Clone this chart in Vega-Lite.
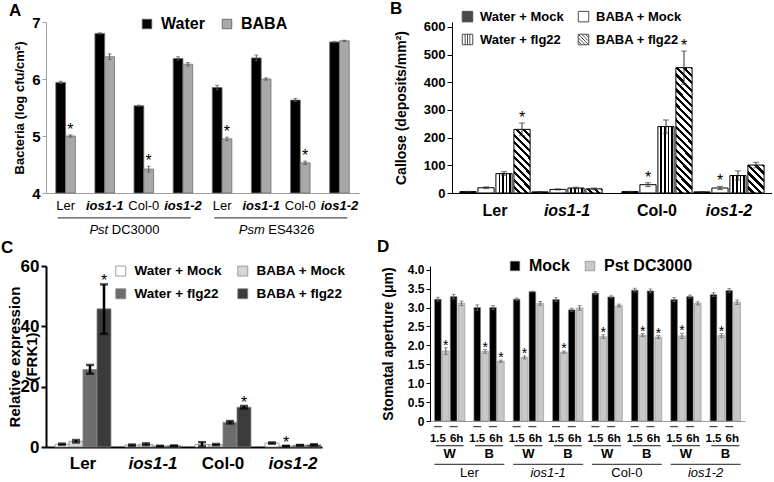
{
"$schema":"https://vega.github.io/schema/vega-lite/v6.json",
"background":"white",
"padding":{"left":1,"top":0,"right":0,"bottom":0},
"config":{"font":"Liberation Sans","view":{"stroke":null},
 "axis":{"labelColor":"black","titleColor":"black","domainColor":"black","tickColor":"black","grid":false,"labelFont":"Liberation Sans","titleFont":"Liberation Sans","labelOverlap":false,"titleLineHeight":17},
 "legend":{"labelColor":"black","labelFont":"Liberation Sans","padding":0},
 "title":{"font":"Liberation Sans","color":"black"},
 "text":{"font":"Liberation Sans","color":"black"}},
"datasets":{
 "a":[
  {"k":"Pst|Ler","t":"Water","v":5.94,"lo":5.92,"hi":5.96,"s":""},
  {"k":"Pst|Ler","t":"BABA","v":5.0,"lo":4.98,"hi":5.02,"s":"*"},
  {"k":"Pst|ios1-1","t":"Water","v":6.8,"lo":6.79,"hi":6.81,"s":""},
  {"k":"Pst|ios1-1","t":"BABA","v":6.39,"lo":6.34,"hi":6.44,"s":""},
  {"k":"Pst|Col-0","t":"Water","v":5.53,"lo":5.52,"hi":5.54,"s":""},
  {"k":"Pst|Col-0","t":"BABA","v":4.42,"lo":4.37,"hi":4.47,"s":"*"},
  {"k":"Pst|ios1-2","t":"Water","v":6.36,"lo":6.33,"hi":6.39,"s":""},
  {"k":"Pst|ios1-2","t":"BABA","v":6.26,"lo":6.23,"hi":6.29,"s":""},
  {"k":"Psm|Ler","t":"Water","v":5.85,"lo":5.81,"hi":5.89,"s":""},
  {"k":"Psm|Ler","t":"BABA","v":4.95,"lo":4.92,"hi":4.98,"s":"*"},
  {"k":"Psm|ios1-1","t":"Water","v":6.37,"lo":6.32,"hi":6.42,"s":""},
  {"k":"Psm|ios1-1","t":"BABA","v":6.0,"lo":5.98,"hi":6.02,"s":""},
  {"k":"Psm|Col-0","t":"Water","v":5.63,"lo":5.6,"hi":5.66,"s":""},
  {"k":"Psm|Col-0","t":"BABA","v":4.53,"lo":4.5,"hi":4.56,"s":"*"},
  {"k":"Psm|ios1-2","t":"Water","v":6.65,"lo":6.64,"hi":6.66,"s":""},
  {"k":"Psm|ios1-2","t":"BABA","v":6.67,"lo":6.66,"hi":6.68,"s":""}
 ],
 "alab":[{"g":"Pst|Ler","lab":"Ler"},{"g":"Pst|ios1-1","lab":"ios1-1"},{"g":"Pst|Col-0","lab":"Col-0"},{"g":"Pst|ios1-2","lab":"ios1-2"},
  {"g":"Psm|Ler","lab":"Ler"},{"g":"Psm|ios1-1","lab":"ios1-1"},{"g":"Psm|Col-0","lab":"Col-0"},{"g":"Psm|ios1-2","lab":"ios1-2"}],
 "apath":[{"p":"Pst","a":"Pst","b":"DC3000"},{"p":"Psm","a":"Psm","b":"ES4326"}],
 "b":[
  {"g":"Ler","t":"Water + Mock","v":5,"lo":4,"hi":6,"s":""},
  {"g":"Ler","t":"BABA + Mock","v":19,"lo":16,"hi":22,"s":""},
  {"g":"Ler","t":"Water + flg22","v":70,"lo":64,"hi":77,"s":""},
  {"g":"Ler","t":"BABA + flg22","v":230,"lo":207,"hi":253,"s":"*"},
  {"g":"ios1-1","t":"Water + Mock","v":4,"lo":3,"hi":5,"s":""},
  {"g":"ios1-1","t":"BABA + Mock","v":13,"lo":11,"hi":15,"s":""},
  {"g":"ios1-1","t":"Water + flg22","v":18,"lo":15,"hi":21,"s":""},
  {"g":"ios1-1","t":"BABA + flg22","v":15,"lo":12,"hi":18,"s":""},
  {"g":"Col-0","t":"Water + Mock","v":5,"lo":4,"hi":6,"s":""},
  {"g":"Col-0","t":"BABA + Mock","v":30,"lo":23,"hi":37,"s":"*"},
  {"g":"Col-0","t":"Water + flg22","v":240,"lo":216,"hi":264,"s":""},
  {"g":"Col-0","t":"BABA + flg22","v":453,"lo":393,"hi":513,"s":"*"},
  {"g":"ios1-2","t":"Water + Mock","v":4,"lo":3,"hi":5,"s":""},
  {"g":"ios1-2","t":"BABA + Mock","v":18,"lo":12,"hi":24,"s":"*"},
  {"g":"ios1-2","t":"Water + flg22","v":63,"lo":47,"hi":80,"s":""},
  {"g":"ios1-2","t":"BABA + flg22","v":101,"lo":91,"hi":111,"s":""}
 ],
 "c":[
  {"g":"Ler","t":"Water + Mock","v":0.9,"lo":0.7,"hi":1.1,"s":""},
  {"g":"Ler","t":"BABA + Mock","v":1.9,"lo":1.5,"hi":2.3,"s":""},
  {"g":"Ler","t":"Water + flg22","v":25.7,"lo":24.3,"hi":27.2,"s":""},
  {"g":"Ler","t":"BABA + flg22","v":45.8,"lo":37.5,"hi":53.9,"s":"*"},
  {"g":"ios1-1","t":"Water + Mock","v":0.6,"lo":0.4,"hi":0.8,"s":""},
  {"g":"ios1-1","t":"BABA + Mock","v":0.9,"lo":0.6,"hi":1.2,"s":""},
  {"g":"ios1-1","t":"Water + flg22","v":0.3,"lo":0.2,"hi":0.4,"s":""},
  {"g":"ios1-1","t":"BABA + flg22","v":0.4,"lo":0.3,"hi":0.5,"s":""},
  {"g":"Col-0","t":"Water + Mock","v":0.8,"lo":0.2,"hi":1.6,"s":""},
  {"g":"Col-0","t":"BABA + Mock","v":0.8,"lo":0.6,"hi":1.0,"s":""},
  {"g":"Col-0","t":"Water + flg22","v":8.2,"lo":7.8,"hi":8.6,"s":""},
  {"g":"Col-0","t":"BABA + flg22","v":13.2,"lo":12.8,"hi":13.6,"s":"*"},
  {"g":"ios1-2","t":"Water + Mock","v":1.3,"lo":1.1,"hi":1.5,"s":""},
  {"g":"ios1-2","t":"BABA + Mock","v":0.3,"lo":0.2,"hi":0.4,"s":"*"},
  {"g":"ios1-2","t":"Water + flg22","v":0.6,"lo":0.5,"hi":0.7,"s":""},
  {"g":"ios1-2","t":"BABA + flg22","v":0.7,"lo":0.5,"hi":0.9,"s":""}
 ],
 "d":[
  {"pair":"Ler|W","sub":"1.5|Mock","tr":"Mock","v":3.22,"lo":3.17,"hi":3.27,"s":""},
  {"pair":"Ler|W","sub":"1.5|Pst","tr":"Pst DC3000","v":1.85,"lo":1.76,"hi":1.94,"s":"*"},
  {"pair":"Ler|W","sub":"6h|Mock","tr":"Mock","v":3.29,"lo":3.23,"hi":3.35,"s":""},
  {"pair":"Ler|W","sub":"6h|Pst","tr":"Pst DC3000","v":3.11,"lo":3.05,"hi":3.17,"s":""},
  {"pair":"Ler|B","sub":"1.5|Mock","tr":"Mock","v":3.0,"lo":2.93,"hi":3.07,"s":""},
  {"pair":"Ler|B","sub":"1.5|Pst","tr":"Pst DC3000","v":1.84,"lo":1.79,"hi":1.89,"s":"*"},
  {"pair":"Ler|B","sub":"6h|Mock","tr":"Mock","v":3.0,"lo":2.95,"hi":3.05,"s":""},
  {"pair":"Ler|B","sub":"6h|Pst","tr":"Pst DC3000","v":1.58,"lo":1.55,"hi":1.61,"s":"*"},
  {"pair":"ios1-1|W","sub":"1.5|Mock","tr":"Mock","v":3.22,"lo":3.19,"hi":3.25,"s":""},
  {"pair":"ios1-1|W","sub":"1.5|Pst","tr":"Pst DC3000","v":1.68,"lo":1.64,"hi":1.72,"s":"*"},
  {"pair":"ios1-1|W","sub":"6h|Mock","tr":"Mock","v":3.42,"lo":3.41,"hi":3.43,"s":""},
  {"pair":"ios1-1|W","sub":"6h|Pst","tr":"Pst DC3000","v":3.11,"lo":3.06,"hi":3.16,"s":""},
  {"pair":"ios1-1|B","sub":"1.5|Mock","tr":"Mock","v":3.21,"lo":3.16,"hi":3.26,"s":""},
  {"pair":"ios1-1|B","sub":"1.5|Pst","tr":"Pst DC3000","v":1.82,"lo":1.79,"hi":1.85,"s":"*"},
  {"pair":"ios1-1|B","sub":"6h|Mock","tr":"Mock","v":2.94,"lo":2.9,"hi":2.98,"s":""},
  {"pair":"ios1-1|B","sub":"6h|Pst","tr":"Pst DC3000","v":2.99,"lo":2.93,"hi":3.05,"s":""},
  {"pair":"Col-0|W","sub":"1.5|Mock","tr":"Mock","v":3.38,"lo":3.34,"hi":3.42,"s":""},
  {"pair":"Col-0|W","sub":"1.5|Pst","tr":"Pst DC3000","v":2.23,"lo":2.18,"hi":2.28,"s":"*"},
  {"pair":"Col-0|W","sub":"6h|Mock","tr":"Mock","v":3.28,"lo":3.25,"hi":3.31,"s":""},
  {"pair":"Col-0|W","sub":"6h|Pst","tr":"Pst DC3000","v":3.05,"lo":3.01,"hi":3.09,"s":""},
  {"pair":"Col-0|B","sub":"1.5|Mock","tr":"Mock","v":3.46,"lo":3.41,"hi":3.51,"s":""},
  {"pair":"Col-0|B","sub":"1.5|Pst","tr":"Pst DC3000","v":2.27,"lo":2.23,"hi":2.31,"s":"*"},
  {"pair":"Col-0|B","sub":"6h|Mock","tr":"Mock","v":3.44,"lo":3.39,"hi":3.49,"s":""},
  {"pair":"Col-0|B","sub":"6h|Pst","tr":"Pst DC3000","v":2.22,"lo":2.18,"hi":2.26,"s":"*"},
  {"pair":"ios1-2|W","sub":"1.5|Mock","tr":"Mock","v":3.21,"lo":3.16,"hi":3.26,"s":""},
  {"pair":"ios1-2|W","sub":"1.5|Pst","tr":"Pst DC3000","v":2.25,"lo":2.18,"hi":2.32,"s":"*"},
  {"pair":"ios1-2|W","sub":"6h|Mock","tr":"Mock","v":3.29,"lo":3.25,"hi":3.33,"s":""},
  {"pair":"ios1-2|W","sub":"6h|Pst","tr":"Pst DC3000","v":3.11,"lo":3.07,"hi":3.15,"s":""},
  {"pair":"ios1-2|B","sub":"1.5|Mock","tr":"Mock","v":3.34,"lo":3.29,"hi":3.39,"s":""},
  {"pair":"ios1-2|B","sub":"1.5|Pst","tr":"Pst DC3000","v":2.26,"lo":2.21,"hi":2.31,"s":"*"},
  {"pair":"ios1-2|B","sub":"6h|Mock","tr":"Mock","v":3.45,"lo":3.4,"hi":3.5,"s":""},
  {"pair":"ios1-2|B","sub":"6h|Pst","tr":"Pst DC3000","v":3.14,"lo":3.08,"hi":3.2,"s":""}
 ],
 "dtime":[
  {"pair":"Ler|W","sub":"1.5|Mock","lab":"1.5"},{"pair":"Ler|W","sub":"6h|Mock","lab":"6h"},
  {"pair":"Ler|B","sub":"1.5|Mock","lab":"1.5"},{"pair":"Ler|B","sub":"6h|Mock","lab":"6h"},
  {"pair":"ios1-1|W","sub":"1.5|Mock","lab":"1.5"},{"pair":"ios1-1|W","sub":"6h|Mock","lab":"6h"},
  {"pair":"ios1-1|B","sub":"1.5|Mock","lab":"1.5"},{"pair":"ios1-1|B","sub":"6h|Mock","lab":"6h"},
  {"pair":"Col-0|W","sub":"1.5|Mock","lab":"1.5"},{"pair":"Col-0|W","sub":"6h|Mock","lab":"6h"},
  {"pair":"Col-0|B","sub":"1.5|Mock","lab":"1.5"},{"pair":"Col-0|B","sub":"6h|Mock","lab":"6h"},
  {"pair":"ios1-2|W","sub":"1.5|Mock","lab":"1.5"},{"pair":"ios1-2|W","sub":"6h|Mock","lab":"6h"},
  {"pair":"ios1-2|B","sub":"1.5|Mock","lab":"1.5"},{"pair":"ios1-2|B","sub":"6h|Mock","lab":"6h"}
 ],
 "dpair":[
  {"pair":"Ler|W","wb":"W"},{"pair":"Ler|B","wb":"B"},{"pair":"ios1-1|W","wb":"W"},{"pair":"ios1-1|B","wb":"B"},
  {"pair":"Col-0|W","wb":"W"},{"pair":"Col-0|B","wb":"B"},{"pair":"ios1-2|W","wb":"W"},{"pair":"ios1-2|B","wb":"B"}
 ],
 "dgeno":[{"geno":"Ler"},{"geno":"ios1-1"},{"geno":"Col-0"},{"geno":"ios1-2"}]
},
"spacing":0,
"resolve":{"scale":{"fill":"independent","shape":"independent"},"legend":{"fill":"independent","shape":"independent"}},
"vconcat":[
 {"spacing":30,"resolve":{"scale":{"fill":"independent","shape":"independent"},"legend":{"fill":"independent","shape":"independent"}},"hconcat":[
  {"title":{"text":"A","anchor":"start","frame":"bounds","fontSize":17,"fontWeight":"bold","dx":-4,"dy":7,"offset":2},
   "width":313,"height":171,
   "resolve":{"scale":{"x":"independent"},"axis":{"x":"independent"}},
   "layer":[
    {"data":{"name":"a"},
     "transform":[{"calculate":"datum.k+'|'+datum.t","as":"x"}],
     "encoding":{
      "x":{"field":"x","type":"nominal","scale":{"type":"band","domain":["s0","Pst|Ler|Water","Pst|Ler|BABA","s1","s2","Pst|ios1-1|Water","Pst|ios1-1|BABA","s3","s4","Pst|Col-0|Water","Pst|Col-0|BABA","s5","s6","Pst|ios1-2|Water","Pst|ios1-2|BABA","s7","s8","Psm|Ler|Water","Psm|Ler|BABA","s9","s10","Psm|ios1-1|Water","Psm|ios1-1|BABA","s11","s12","Psm|Col-0|Water","Psm|Col-0|BABA","s13","s14","Psm|ios1-2|Water","Psm|ios1-2|BABA","s15"],"paddingInner":0,"paddingOuter":0},
       "axis":{"title":null,"labels":false,"ticks":false,"domainColor":"#a0a0a0"}}
     },
     "layer":[
      {"mark":{"type":"bar","stroke":"#6f6f6f","strokeWidth":0.8},
       "encoding":{
        "y":{"field":"v","type":"quantitative","scale":{"domain":[4,7],"nice":false,"zero":false},
         "axis":{"title":"Bacteria (log cfu/cm²)","titleX":-20,"values":[4,5,6,7],"format":"d","labelOverlap":false,"labelFontSize":15,"labelFontWeight":"bold","titleFontSize":13,"titleFontWeight":"bold","domainColor":"#a0a0a0","tickColor":"#a0a0a0","tickSize":4}},
        "y2":{"datum":4},
        "fill":{"field":"t","type":"nominal","scale":{"domain":["Water","BABA"],"range":["#000000","#a8a8a8"]},
         "legend":{"title":null,"orient":"none","legendX":93,"legendY":-6,"direction":"horizontal","symbolType":"square","symbolSize":90,"symbolStrokeColor":"#555","symbolStrokeWidth":0.8,"labelFontSize":16,"labelFontWeight":"bold","labelOffset":6,"columnPadding":14}}}},
      {"mark":{"type":"rule","color":"#555","strokeWidth":1},"encoding":{"y":{"field":"lo","type":"quantitative","axis":{"values":[4,5,6,7]}},"y2":{"field":"hi"}}},
      {"mark":{"type":"tick","color":"#555","thickness":1,"size":4,"orient":"horizontal"},"encoding":{"y":{"field":"hi","type":"quantitative","axis":{"values":[4,5,6,7]}}}},
      {"mark":{"type":"tick","color":"#555","thickness":1,"size":4,"orient":"horizontal"},"encoding":{"y":{"field":"lo","type":"quantitative","axis":{"values":[4,5,6,7]}}}},
      {"transform":[{"filter":"datum.s==='*'"}],"mark":{"type":"text","fontSize":16,"dy":0,"baseline":"alphabetic"},"encoding":{"y":{"field":"hi","type":"quantitative","axis":{"values":[4,5,6,7]}},"text":{"field":"s"}}}
     ]},
    {"data":{"name":"alab"},
     "encoding":{"x":{"field":"g","type":"nominal","scale":{"type":"band","domain":["Pst|Ler","Pst|ios1-1","Pst|Col-0","Pst|ios1-2","Psm|Ler","Psm|ios1-1","Psm|Col-0","Psm|ios1-2"],"paddingInner":0,"paddingOuter":0},"axis":null}},
     "layer":[
      {"transform":[{"filter":"indexof(datum.g,'ios')<0"}],"mark":{"type":"text","fontSize":13,"baseline":"middle"},"encoding":{"y":{"datum":3.775,"type":"quantitative","scale":{"domain":[4,7],"nice":false,"zero":false},"axis":{"values":[4,5,6,7]}},"text":{"field":"lab"}}},
      {"transform":[{"filter":"indexof(datum.g,'ios')>=0"}],"mark":{"type":"text","fontSize":13,"fontWeight":"bold","fontStyle":"italic","baseline":"middle"},"encoding":{"y":{"datum":3.775,"type":"quantitative","axis":{"values":[4,5,6,7]}},"text":{"field":"lab"}}}
     ]},
    {"data":{"name":"apath"},
     "encoding":{"x":{"field":"p","type":"nominal","scale":{"type":"band","domain":["Pst","Psm"],"paddingInner":0,"paddingOuter":0},"axis":null}},
     "layer":[
      {"mark":{"type":"tick","orient":"horizontal","size":133,"thickness":1.2,"color":"black"},"encoding":{"y":{"datum":3.565,"type":"quantitative","axis":{"values":[4,5,6,7]}}}},
      {"mark":{"type":"text","fontStyle":"italic","fontSize":13,"align":"right","dx":-16,"baseline":"middle"},"encoding":{"y":{"datum":3.35,"type":"quantitative","axis":{"values":[4,5,6,7]}},"text":{"field":"a"}}},
      {"mark":{"type":"text","fontSize":13,"align":"left","dx":-12.5,"baseline":"middle"},"encoding":{"y":{"datum":3.35,"type":"quantitative","axis":{"values":[4,5,6,7]}},"text":{"field":"b"}}}
     ]}
   ]},
  {"title":{"text":"B","anchor":"start","frame":"bounds","fontSize":17,"fontWeight":"bold","dx":-4,"dy":10,"offset":2},
   "width":320,"height":171,
   "data":{"name":"b"},
   "transform":[{"calculate":"datum.g+'|'+datum.t","as":"x"}],
   "encoding":{
    "x":{"field":"x","type":"nominal","scale":{"type":"band","domain":["Ler|Water + Mock","Ler|BABA + Mock","Ler|Water + flg22","Ler|BABA + flg22","ios1-1|Water + Mock","ios1-1|BABA + Mock","ios1-1|Water + flg22","ios1-1|BABA + flg22","gap","Col-0|Water + Mock","Col-0|BABA + Mock","Col-0|Water + flg22","Col-0|BABA + flg22","ios1-2|Water + Mock","ios1-2|BABA + Mock","ios1-2|Water + flg22","ios1-2|BABA + flg22"],"paddingInner":0.1,"paddingOuter":0.44},
     "axis":{"title":null,"labelAngle":0,"ticks":false,"labelFontSize":16,"labelFontWeight":"bold","labelPadding":9,"labelOffset":9,"labelOverlap":false,
      "labelExpr":"indexof(datum.value,'|BABA + Mock')>0 ? split(datum.value,'|')[0] : ''",
      "labelFontStyle":{"condition":{"test":"indexof(datum.value,'ios')>=0","value":"italic"},"value":"normal"}}}
   },
   "layer":[
    {"mark":{"type":"bar","stroke":"black","strokeWidth":1},
     "encoding":{
      "y":{"field":"v","type":"quantitative","scale":{"domain":[0,618],"nice":false},
       "axis":{"title":"Callose (deposits/mm²)","titleX":-44,"values":[0,100,200,300,400,500,600],"labelOverlap":false,"labelFontSize":13,"labelFontWeight":"bold","titleFontSize":14,"titleFontWeight":"bold","tickSize":5}},
      "fill":{
       "condition":[
        {"test":"datum.t==='Water + flg22'","value":{"gradient":"linear","x1":0,"y1":0,"x2":1,"y2":0,"stops":[
          {"offset":0,"color":"#fff"},{"offset":0.16,"color":"#fff"},{"offset":0.16,"color":"#000"},{"offset":0.26,"color":"#000"},{"offset":0.26,"color":"#fff"},
          {"offset":0.38,"color":"#fff"},{"offset":0.38,"color":"#000"},{"offset":0.48,"color":"#000"},{"offset":0.48,"color":"#fff"},
          {"offset":0.6,"color":"#fff"},{"offset":0.6,"color":"#000"},{"offset":0.7,"color":"#000"},{"offset":0.7,"color":"#fff"},
          {"offset":0.82,"color":"#fff"},{"offset":0.82,"color":"#000"},{"offset":0.92,"color":"#000"},{"offset":0.92,"color":"#fff"},{"offset":1,"color":"#fff"}]}},
        {"test":"datum.t==='BABA + flg22' && datum.g==='Ler'","value":{"gradient":"linear","x1":0,"y1":1,"x2":0.302,"y2":-0.179,"stops":[
         {"offset":0,"color":"#fff"},
         {"offset":0.0517,"color":"#fff"},{"offset":0.0517,"color":"#000"},{"offset":0.0939,"color":"#000"},{"offset":0.0939,"color":"#fff"},
         {"offset":0.1456,"color":"#fff"},{"offset":0.1456,"color":"#000"},{"offset":0.1878,"color":"#000"},{"offset":0.1878,"color":"#fff"},
         {"offset":0.2395,"color":"#fff"},{"offset":0.2395,"color":"#000"},{"offset":0.2817,"color":"#000"},{"offset":0.2817,"color":"#fff"},
         {"offset":0.3334,"color":"#fff"},{"offset":0.3334,"color":"#000"},{"offset":0.3756,"color":"#000"},{"offset":0.3756,"color":"#fff"},
         {"offset":0.4273,"color":"#fff"},{"offset":0.4273,"color":"#000"},{"offset":0.4695,"color":"#000"},{"offset":0.4695,"color":"#fff"},
         {"offset":0.5212,"color":"#fff"},{"offset":0.5212,"color":"#000"},{"offset":0.5634,"color":"#000"},{"offset":0.5634,"color":"#fff"},
         {"offset":0.6151,"color":"#fff"},{"offset":0.6151,"color":"#000"},{"offset":0.6573,"color":"#000"},{"offset":0.6573,"color":"#fff"},
         {"offset":0.709,"color":"#fff"},{"offset":0.709,"color":"#000"},{"offset":0.7512,"color":"#000"},{"offset":0.7512,"color":"#fff"},
         {"offset":0.8029,"color":"#fff"},{"offset":0.8029,"color":"#000"},{"offset":0.8451,"color":"#000"},{"offset":0.8451,"color":"#fff"},
         {"offset":0.8968,"color":"#fff"},{"offset":0.8968,"color":"#000"},{"offset":0.939,"color":"#000"},{"offset":0.939,"color":"#fff"},
         {"offset":0.9907,"color":"#fff"},{"offset":0.9907,"color":"#000"},{"offset":1,"color":"#000"}]}},
        {"test":"datum.t==='BABA + flg22' && datum.g==='ios1-1'","value":{"gradient":"linear","x1":0,"y1":1,"x2":1.178,"y2":0.7,"stops":[
         {"offset":0,"color":"#fff"},
         {"offset":0.2017,"color":"#fff"},{"offset":0.2017,"color":"#000"},{"offset":0.3667,"color":"#000"},{"offset":0.3667,"color":"#fff"},
         {"offset":0.5684,"color":"#fff"},{"offset":0.5684,"color":"#000"},{"offset":0.7334,"color":"#000"},{"offset":0.7334,"color":"#fff"},
         {"offset":0.9351,"color":"#fff"},{"offset":0.9351,"color":"#000"},{"offset":1,"color":"#000"}]}},
        {"test":"datum.t==='BABA + flg22' && datum.g==='Col-0'","value":{"gradient":"linear","x1":0,"y1":1,"x2":0.145,"y2":-0.111,"stops":[
         {"offset":0,"color":"#fff"},
         {"offset":0.0292,"color":"#fff"},{"offset":0.0292,"color":"#000"},{"offset":0.053,"color":"#000"},{"offset":0.053,"color":"#fff"},
         {"offset":0.0822,"color":"#fff"},{"offset":0.0822,"color":"#000"},{"offset":0.1061,"color":"#000"},{"offset":0.1061,"color":"#fff"},
         {"offset":0.1353,"color":"#fff"},{"offset":0.1353,"color":"#000"},{"offset":0.1591,"color":"#000"},{"offset":0.1591,"color":"#fff"},
         {"offset":0.1883,"color":"#fff"},{"offset":0.1883,"color":"#000"},{"offset":0.2122,"color":"#000"},{"offset":0.2122,"color":"#fff"},
         {"offset":0.2413,"color":"#fff"},{"offset":0.2413,"color":"#000"},{"offset":0.2652,"color":"#000"},{"offset":0.2652,"color":"#fff"},
         {"offset":0.2944,"color":"#fff"},{"offset":0.2944,"color":"#000"},{"offset":0.3182,"color":"#000"},{"offset":0.3182,"color":"#fff"},
         {"offset":0.3474,"color":"#fff"},{"offset":0.3474,"color":"#000"},{"offset":0.3713,"color":"#000"},{"offset":0.3713,"color":"#fff"},
         {"offset":0.4005,"color":"#fff"},{"offset":0.4005,"color":"#000"},{"offset":0.4243,"color":"#000"},{"offset":0.4243,"color":"#fff"},
         {"offset":0.4535,"color":"#fff"},{"offset":0.4535,"color":"#000"},{"offset":0.4774,"color":"#000"},{"offset":0.4774,"color":"#fff"},
         {"offset":0.5065,"color":"#fff"},{"offset":0.5065,"color":"#000"},{"offset":0.5304,"color":"#000"},{"offset":0.5304,"color":"#fff"},
         {"offset":0.5596,"color":"#fff"},{"offset":0.5596,"color":"#000"},{"offset":0.5834,"color":"#000"},{"offset":0.5834,"color":"#fff"},
         {"offset":0.6126,"color":"#fff"},{"offset":0.6126,"color":"#000"},{"offset":0.6365,"color":"#000"},{"offset":0.6365,"color":"#fff"},
         {"offset":0.6657,"color":"#fff"},{"offset":0.6657,"color":"#000"},{"offset":0.6895,"color":"#000"},{"offset":0.6895,"color":"#fff"},
         {"offset":0.7187,"color":"#fff"},{"offset":0.7187,"color":"#000"},{"offset":0.7426,"color":"#000"},{"offset":0.7426,"color":"#fff"},
         {"offset":0.7717,"color":"#fff"},{"offset":0.7717,"color":"#000"},{"offset":0.7956,"color":"#000"},{"offset":0.7956,"color":"#fff"},
         {"offset":0.8248,"color":"#fff"},{"offset":0.8248,"color":"#000"},{"offset":0.8486,"color":"#000"},{"offset":0.8486,"color":"#fff"},
         {"offset":0.8778,"color":"#fff"},{"offset":0.8778,"color":"#000"},{"offset":0.9017,"color":"#000"},{"offset":0.9017,"color":"#fff"},
         {"offset":0.9309,"color":"#fff"},{"offset":0.9309,"color":"#000"},{"offset":0.9547,"color":"#000"},{"offset":0.9547,"color":"#fff"},
         {"offset":0.9839,"color":"#fff"},{"offset":0.9839,"color":"#000"},{"offset":1,"color":"#000"}]}},
        {"test":"datum.t==='BABA + flg22' && datum.g==='ios1-2'","value":{"gradient":"linear","x1":0,"y1":1,"x2":0.684,"y2":-0.183,"stops":[
         {"offset":0,"color":"#fff"},
         {"offset":0.0927,"color":"#fff"},{"offset":0.0927,"color":"#000"},{"offset":0.1685,"color":"#000"},{"offset":0.1685,"color":"#fff"},
         {"offset":0.2612,"color":"#fff"},{"offset":0.2612,"color":"#000"},{"offset":0.337,"color":"#000"},{"offset":0.337,"color":"#fff"},
         {"offset":0.4297,"color":"#fff"},{"offset":0.4297,"color":"#000"},{"offset":0.5055,"color":"#000"},{"offset":0.5055,"color":"#fff"},
         {"offset":0.5982,"color":"#fff"},{"offset":0.5982,"color":"#000"},{"offset":0.674,"color":"#000"},{"offset":0.674,"color":"#fff"},
         {"offset":0.7667,"color":"#fff"},{"offset":0.7667,"color":"#000"},{"offset":0.8425,"color":"#000"},{"offset":0.8425,"color":"#fff"},
         {"offset":0.9352,"color":"#fff"},{"offset":0.9352,"color":"#000"},{"offset":1,"color":"#000"}]}}
       ],
       "field":"t","type":"nominal",
       "scale":{"domain":["Water + Mock","BABA + Mock","Water + flg22","BABA + flg22"],"range":["#000000","#ffffff","#ffffff","#ffffff"]},
       "legend":{"title":null,"orient":"none","legendX":9,"legendY":-12,"columns":2,"direction":"horizontal","symbolSize":110,"symbolStrokeColor":"black","symbolStrokeWidth":1,"labelFontSize":13,"labelFontWeight":"bold","labelOffset":6,"columnPadding":12,"rowPadding":8}}}},
    {"transform":[{"filter":"false"}],
     "mark":{"type":"point","filled":true,"stroke":"black","strokeWidth":1},
     "encoding":{"y":{"field":"v","type":"quantitative","axis":{"values":[0,100,200,300,400,500,600]}},
      "fill":{"field":"t","type":"nominal"},
      "shape":{"field":"t","type":"nominal","scale":{"domain":["Water + Mock","BABA + Mock","Water + flg22","BABA + flg22"],
        "range":["M-1,-1H1V1H-1Z","M-1,-1H1V1H-1Z","M-1,-1H1V1H-1Z M-0.45,-1V1 M0,-1V1 M0.45,-1V1","M-1,-1H1V1H-1Z M-1,-1L1,1 M-0.33,-1L1,0.33 M0.33,-1L1,-0.33 M-1,-0.33L0.33,1 M-1,0.33L-0.33,1"]},
       "legend":{"title":null,"orient":"none","legendX":9,"legendY":-12,"columns":2,"direction":"horizontal","symbolSize":110,"symbolStrokeColor":"black","symbolStrokeWidth":1,"labelFontSize":13,"labelFontWeight":"bold","labelOffset":6,"columnPadding":12,"rowPadding":8}}}},
    {"mark":{"type":"rule","color":"#333","strokeWidth":1},"encoding":{"y":{"field":"lo","type":"quantitative","axis":{"values":[0,100,200,300,400,500,600]}},"y2":{"field":"hi"}}},
    {"mark":{"type":"tick","color":"#333","thickness":1,"size":6,"orient":"horizontal"},"encoding":{"y":{"field":"hi","type":"quantitative","axis":{"values":[0,100,200,300,400,500,600]}}}},
    {"mark":{"type":"tick","color":"#333","thickness":1,"size":6,"orient":"horizontal"},"encoding":{"y":{"field":"lo","type":"quantitative","axis":{"values":[0,100,200,300,400,500,600]}}}},
    {"transform":[{"filter":"datum.s==='*'"}],"mark":{"type":"text","fontSize":16,"dy":0,"baseline":"alphabetic"},"encoding":{"y":{"field":"hi","type":"quantitative","axis":{"values":[0,100,200,300,400,500,600]}},"text":{"field":"s"}}}
   ]}
 ]},
 {"spacing":30,"resolve":{"scale":{"fill":"independent"},"legend":{"fill":"independent"}},"hconcat":[
  {"title":{"text":"C","anchor":"start","frame":"bounds","fontSize":17,"fontWeight":"bold","dx":-6,"dy":2,"offset":2},
   "width":276,"height":181,
   "data":{"name":"c"},
   "transform":[{"calculate":"datum.g+'|'+datum.t","as":"x"}],
   "encoding":{
    "x":{"field":"x","type":"nominal","scale":{"type":"band","domain":["Ler|Water + Mock","Ler|BABA + Mock","Ler|Water + flg22","Ler|BABA + flg22","g1","ios1-1|Water + Mock","ios1-1|BABA + Mock","ios1-1|Water + flg22","ios1-1|BABA + flg22","g2","Col-0|Water + Mock","Col-0|BABA + Mock","Col-0|Water + flg22","Col-0|BABA + flg22","g3","ios1-2|Water + Mock","ios1-2|BABA + Mock","ios1-2|Water + flg22","ios1-2|BABA + flg22"],"paddingInner":0,"paddingOuter":0.357,"align":0.9},
     "axis":{"title":null,"labelAngle":0,"ticks":false,"labelFontSize":17,"labelFontWeight":"bold","labelPadding":8,"labelOffset":7,"domainWidth":2,"labelOverlap":false,
      "labelExpr":"indexof(datum.value,'|BABA + Mock')>0 ? split(datum.value,'|')[0] : ''",
      "labelFontStyle":{"condition":{"test":"indexof(datum.value,'ios')>=0","value":"italic"},"value":"normal"}}}
   },
   "layer":[
    {"mark":{"type":"bar","stroke":"#8a8a8a","strokeWidth":0.8},
     "encoding":{
      "y":{"field":"v","type":"quantitative","scale":{"domain":[0,60],"nice":false},
       "axis":{"title":["Relative expression","(FRK1)"],"titleX":-24,"titleLineHeight":17,"values":[0,20,40,60],"labelOverlap":false,"labelFontSize":17,"labelFontWeight":"bold","titleFontSize":15,"titleFontWeight":"bold","tickSize":5,"tickWidth":2,"domainWidth":2}},
      "fill":{"field":"t","type":"nominal","scale":{"domain":["Water + Mock","BABA + Mock","Water + flg22","BABA + flg22"],"range":["#ffffff","#d6d6d6","#6d6d6d","#3b3b3b"]},
       "legend":{"title":null,"orient":"none","legendX":68,"legendY":-2,"columns":2,"direction":"horizontal","symbolType":"square","symbolSize":100,"symbolStrokeColor":"#888","symbolStrokeWidth":0.8,"labelFontSize":13.5,"labelFontWeight":"bold","labelOffset":7,"columnPadding":14,"rowPadding":8}}}},
    {"mark":{"type":"rule","color":"black","strokeWidth":2.5},"encoding":{"y":{"field":"lo","type":"quantitative","axis":{"values":[0,20,40,60],"titleLineHeight":17}},"y2":{"field":"hi"}}},
    {"mark":{"type":"tick","color":"black","thickness":2.5,"size":8,"orient":"horizontal"},"encoding":{"y":{"field":"hi","type":"quantitative","axis":{"values":[0,20,40,60],"titleLineHeight":17}}}},
    {"mark":{"type":"tick","color":"black","thickness":2.5,"size":8,"orient":"horizontal"},"encoding":{"y":{"field":"lo","type":"quantitative","axis":{"values":[0,20,40,60],"titleLineHeight":17}}}},
    {"transform":[{"filter":"datum.s==='*'"}],"mark":{"type":"text","fontSize":16,"dy":2,"baseline":"alphabetic"},"encoding":{"y":{"field":"hi","type":"quantitative","axis":{"values":[0,20,40,60],"titleLineHeight":17}},"text":{"field":"s"}}}
   ]},
  {"title":{"text":"D","anchor":"start","frame":"bounds","fontSize":17,"fontWeight":"bold","dx":-4,"dy":0,"offset":2},
   "width":315,"height":155,
   "resolve":{"scale":{"x":"independent"},"axis":{"x":"independent"}},
   "layer":[
    {"encoding":{
      "x":{"field":"x","type":"nominal","scale":{"type":"band","domain":["Ler|W|1.5|Mock","Ler|W|1.5|Pst","Ler|W|6h|Mock","Ler|W|6h|Pst","g1","Ler|B|1.5|Mock","Ler|B|1.5|Pst","Ler|B|6h|Mock","Ler|B|6h|Pst","g2","ios1-1|W|1.5|Mock","ios1-1|W|1.5|Pst","ios1-1|W|6h|Mock","ios1-1|W|6h|Pst","g3","ios1-1|B|1.5|Mock","ios1-1|B|1.5|Pst","ios1-1|B|6h|Mock","ios1-1|B|6h|Pst","g4","Col-0|W|1.5|Mock","Col-0|W|1.5|Pst","Col-0|W|6h|Mock","Col-0|W|6h|Pst","g5","Col-0|B|1.5|Mock","Col-0|B|1.5|Pst","Col-0|B|6h|Mock","Col-0|B|6h|Pst","g6","ios1-2|W|1.5|Mock","ios1-2|W|1.5|Pst","ios1-2|W|6h|Mock","ios1-2|W|6h|Pst","g7","ios1-2|B|1.5|Mock","ios1-2|B|1.5|Pst","ios1-2|B|6h|Mock","ios1-2|B|6h|Pst"],"paddingInner":0.15,"paddingOuter":0.575},
       "axis":{"labels":false,"ticks":false,"title":null,"domainColor":"#999"}}},
     "layer":[
      {"data":{"name":"d"},
       "transform":[{"calculate":"datum.pair+'|'+datum.sub","as":"x"}],
       "layer":[
        {"mark":{"type":"bar","stroke":"#8a8a8a","strokeWidth":0.6},
         "encoding":{
          "y":{"field":"v","type":"quantitative","scale":{"domain":[0,4.098],"nice":false},
           "axis":{"title":"Stomatal aperture (μm)","titleX":-35,"values":[0,0.5,1,1.5,2,2.5,3,3.5,4],"labelOverlap":false,"labelExpr":"datum.value==0 ? '0' : format(datum.value,'.1f')","labelFontSize":12,"labelFontWeight":"bold","titleFontSize":14,"titleFontWeight":"bold","tickSize":4}},
          "fill":{"field":"tr","type":"nominal","scale":{"domain":["Mock","Pst DC3000"],"range":["#000000","#c8c8c8"]},
           "legend":{"title":null,"orient":"none","legendX":77,"legendY":-8,"direction":"horizontal","symbolType":"square","symbolSize":90,"symbolStrokeColor":"#777","symbolStrokeWidth":0.6,"labelFontSize":16,"labelFontWeight":"bold","labelOffset":6,"columnPadding":12}}}},
        {"mark":{"type":"rule","color":"#666","strokeWidth":1},"encoding":{"y":{"field":"lo","type":"quantitative","axis":{"values":[0,0.5,1,1.5,2,2.5,3,3.5,4]}},"y2":{"field":"hi"}}},
        {"mark":{"type":"tick","color":"#666","thickness":1,"size":4,"orient":"horizontal"},"encoding":{"y":{"field":"hi","type":"quantitative","axis":{"values":[0,0.5,1,1.5,2,2.5,3,3.5,4]}}}},
        {"mark":{"type":"tick","color":"#666","thickness":1,"size":4,"orient":"horizontal"},"encoding":{"y":{"field":"lo","type":"quantitative","axis":{"values":[0,0.5,1,1.5,2,2.5,3,3.5,4]}}}},
        {"transform":[{"filter":"datum.s==='*'"}],"mark":{"type":"text","fontSize":14,"dy":2,"baseline":"alphabetic"},"encoding":{"y":{"field":"hi","type":"quantitative","axis":{"values":[0,0.5,1,1.5,2,2.5,3,3.5,4]}},"text":{"field":"s"}}}
       ]},
      {"data":{"name":"dtime"},
       "transform":[{"calculate":"datum.pair+'|'+datum.sub","as":"x"}],
       "layer":[
        {"mark":{"type":"tick","orient":"horizontal","size":8,"thickness":1.3,"color":"black"},"encoding":{"y":{"datum":-0.148,"type":"quantitative","scale":{"domain":[0,4.098],"nice":false},"axis":{"values":[0,0.5,1,1.5,2,2.5,3,3.5,4]}}}},
        {"transform":[{"filter":"datum.lab==='1.5'"}],"mark":{"type":"text","fontSize":11.5,"fontWeight":"bold","baseline":"middle","dx":0},"encoding":{"y":{"datum":-0.477,"type":"quantitative","axis":{"values":[0,0.5,1,1.5,2,2.5,3,3.5,4]}},"text":{"field":"lab"}}},
        {"transform":[{"filter":"datum.lab==='6h'"}],"mark":{"type":"text","fontSize":11.5,"fontWeight":"bold","baseline":"middle","dx":3},"encoding":{"y":{"datum":-0.477,"type":"quantitative","axis":{"values":[0,0.5,1,1.5,2,2.5,3,3.5,4]}},"text":{"field":"lab"}}}
       ]}
     ]},
    {"data":{"name":"dpair"},
     "encoding":{"x":{"field":"pair","type":"nominal","scale":{"type":"band","domain":["Ler|W","Ler|B","ios1-1|W","ios1-1|B","Col-0|W","Col-0|B","ios1-2|W","ios1-2|B"],"paddingInner":0,"paddingOuter":0},"axis":null}},
     "layer":[
      {"mark":{"type":"tick","orient":"horizontal","size":28,"thickness":1.3,"color":"black"},"encoding":{"y":{"datum":-0.652,"type":"quantitative","axis":{"values":[0,0.5,1,1.5,2,2.5,3,3.5,4]}}}},
      {"mark":{"type":"text","fontSize":13,"fontWeight":"bold","baseline":"middle"},"encoding":{"y":{"datum":-0.864,"type":"quantitative","axis":{"values":[0,0.5,1,1.5,2,2.5,3,3.5,4]}},"text":{"field":"wb"}}}
     ]},
    {"data":{"name":"dgeno"},
     "encoding":{"x":{"field":"geno","type":"nominal","scale":{"type":"band","domain":["Ler","ios1-1","Col-0","ios1-2"],"paddingInner":0,"paddingOuter":0},"axis":null}},
     "layer":[
      {"mark":{"type":"tick","orient":"horizontal","size":70,"thickness":1.3,"color":"black"},"encoding":{"y":{"datum":-1.147,"type":"quantitative","axis":{"values":[0,0.5,1,1.5,2,2.5,3,3.5,4]}}}},
      {"transform":[{"filter":"indexof(datum.geno,'ios')<0"}],"mark":{"type":"text","fontSize":13,"baseline":"middle"},"encoding":{"y":{"datum":-1.385,"type":"quantitative","axis":{"values":[0,0.5,1,1.5,2,2.5,3,3.5,4]}},"text":{"field":"geno"}}},
      {"transform":[{"filter":"indexof(datum.geno,'ios')>=0"}],"mark":{"type":"text","fontSize":13,"fontStyle":"italic","baseline":"middle"},"encoding":{"y":{"datum":-1.385,"type":"quantitative","axis":{"values":[0,0.5,1,1.5,2,2.5,3,3.5,4]}},"text":{"field":"geno"}}}
     ]}
   ]}
 ]}
]
}
